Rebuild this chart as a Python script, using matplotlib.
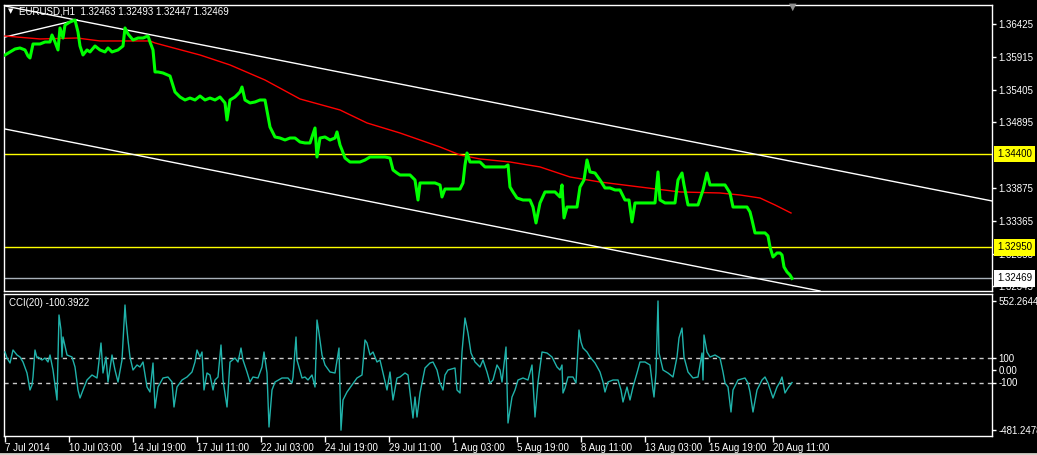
import matplotlib
matplotlib.use("Agg")
import matplotlib.pyplot as plt
from matplotlib.lines import Line2D
from matplotlib.transforms import blended_transform_factory

# EURUSD H1, bar index = hours from the first visible bar (7 Jul 2014)
price_bar = [0, 5, 10, 15, 20, 23, 25, 28, 35, 40,
             45, 47, 50, 53, 55, 58, 60, 65, 70, 73,
             75, 78, 82, 85, 90, 95, 100, 103, 107, 113,
             118, 120, 123, 128, 133, 138, 143, 145, 148, 150,
             153, 158, 165, 170, 175, 180, 185, 190, 195, 200,
             205, 210, 215, 220, 222, 225, 230, 235, 237, 240,
             245, 250, 255, 260, 263, 265, 270, 275, 280, 285,
             290, 295, 300, 305, 310, 312, 315, 320, 325, 330,
             332, 335, 337, 340, 345, 350, 355, 360, 365, 370,
             375, 380, 385, 388, 392, 395, 400, 405, 410, 413,
             415, 420, 425, 430, 435, 437, 440, 445, 450, 455,
             458, 460, 462, 465, 470, 475, 480, 485, 490, 495,
             500, 503, 505, 508, 512, 518, 525, 528, 531, 535,
             540, 545, 550, 555, 557, 559, 562, 567, 572, 575,
             579, 582, 585, 590, 595, 600, 605, 610, 615, 620,
             624, 627, 630, 635, 640, 645, 650, 653, 655, 660,
             665, 670, 673, 677, 679, 683, 688, 693, 698, 702,
             705, 710, 715, 720, 725, 728, 735, 742, 745, 747,
             750, 755, 760, 763, 765, 768, 772, 775, 777, 779,
             782, 785, 787]
price_close = [1.35943, 1.35990, 1.36036, 1.36052, 1.36021, 1.35927, 1.35896, 1.36114, 1.36114, 1.36145,
               1.36145, 1.36254, 1.36145, 1.36021, 1.36363, 1.36207, 1.36409, 1.36456, 1.36487, 1.36301,
               1.36083, 1.35943, 1.36021, 1.35990, 1.36083, 1.36021, 1.35990, 1.36052, 1.35990, 1.36021,
               1.36083, 1.36363, 1.36270, 1.36176, 1.36207, 1.36207, 1.36238, 1.36145, 1.36021, 1.35679,
               1.35679, 1.35663, 1.35616, 1.35368, 1.35290, 1.35243, 1.35274, 1.35243, 1.35305, 1.35243,
               1.35274, 1.35243, 1.35290, 1.35197, 1.34932, 1.35243, 1.35290, 1.35368, 1.35445, 1.35243,
               1.35197, 1.35212, 1.35243, 1.35243, 1.34995, 1.34823, 1.34668, 1.34652, 1.34621, 1.34652,
               1.34652, 1.34590, 1.34575, 1.34575, 1.34808, 1.34357, 1.34652, 1.34668, 1.34621, 1.34652,
               1.34746, 1.34543, 1.34466, 1.34341, 1.34279, 1.34279, 1.34279, 1.34310, 1.34357, 1.34357,
               1.34357, 1.34357, 1.34341, 1.34155, 1.34108, 1.34077, 1.34077, 1.34077, 1.33999, 1.33688,
               1.33953, 1.33953, 1.33953, 1.33953, 1.33922, 1.33735, 1.33859, 1.33859, 1.33859, 1.33859,
               1.33953, 1.34233, 1.34419, 1.34279, 1.34279, 1.34279, 1.34202, 1.34202, 1.34202, 1.34202,
               1.34202, 1.34233, 1.33890, 1.33813, 1.33719, 1.33688, 1.33688, 1.33579, 1.33331, 1.33642,
               1.33813, 1.33813, 1.33813, 1.33735, 1.33922, 1.33409, 1.33579, 1.33579, 1.33579, 1.33890,
               1.33999, 1.34310, 1.34124, 1.34108, 1.33999, 1.33875, 1.33875, 1.33844, 1.33844, 1.33688,
               1.33688, 1.33347, 1.33642, 1.33642, 1.33642, 1.33642, 1.33642, 1.34124, 1.33688, 1.33642,
               1.33642, 1.33642, 1.33999, 1.34108, 1.33922, 1.33611, 1.33611, 1.33611, 1.33844, 1.34108,
               1.33922, 1.33922, 1.33922, 1.33922, 1.33797, 1.33579, 1.33579, 1.33579, 1.33502, 1.33378,
               1.33176, 1.33176, 1.33176, 1.33129, 1.32958, 1.32802, 1.32864, 1.32864, 1.32833, 1.32647,
               1.32569, 1.32522, 1.32469]

ma_bar = [0, 35, 72, 95, 145, 150, 165, 195, 225, 260,
          295, 335, 362, 395, 435, 455, 475, 505, 535, 565,
          595, 635, 675, 715, 735, 755, 770, 786]
ma_value = [1.36238, 1.36192, 1.36207, 1.36161, 1.36161, 1.36130, 1.36067, 1.35943, 1.35788, 1.35554,
            1.35259, 1.35088, 1.34886, 1.34730, 1.34513, 1.34388, 1.34326, 1.34279, 1.34202, 1.34046,
            1.33968, 1.33890, 1.33813, 1.33797, 1.33766, 1.33719, 1.33611, 1.33486]

cci_bar = [0, 2, 5, 8, 12, 15, 18, 22, 25, 27, 28, 30, 32, 33, 37, 40, 43, 45, 48, 52,
           54, 56, 57, 58, 62, 67, 70, 73, 75, 78, 82, 87, 92, 93, 96, 98, 101, 103, 107, 110,
           113, 117, 120, 121, 123, 125, 128, 132, 135, 138, 142, 145, 148, 150, 153, 158, 163, 167, 169, 172,
           177, 182, 187, 190, 192, 195, 197, 199, 202, 205, 208, 210, 213, 216, 218, 222, 225, 230, 233, 236,
           238, 242, 245, 248, 253, 257, 259, 262, 264, 267, 270, 277, 283, 287, 288, 291, 292, 297, 300, 303,
           307, 310, 312, 314, 317, 320, 325, 330, 334, 336, 338, 342, 347, 352, 357, 360, 362, 365, 368, 372,
           375, 378, 382, 385, 388, 392, 395, 400, 403, 408, 410, 412, 415, 418, 420, 425, 428, 432, 435, 438,
           440, 443, 450, 452, 455, 457, 460, 463, 466, 470, 475, 478, 482, 485, 488, 492, 495, 497, 501, 503,
           507, 510, 513, 518, 523, 527, 530, 533, 537, 542, 547, 552, 555, 557, 558, 560, 563, 568, 571, 574,
           576, 578, 582, 585, 590, 595, 598, 600, 603, 608, 613, 616, 618, 622, 625, 628, 632, 635, 640, 645,
           648, 649, 651, 653, 654, 658, 663, 668, 672, 674, 677, 679, 683, 688, 693, 697, 698, 699, 702, 705,
           710, 715, 718, 720, 723, 726, 728, 733, 740, 743, 745, 748, 752, 757, 760, 763, 768, 772, 775, 777,
           780, 783, 787]
cci_value = [144, 96, 56, 160, 120, 104, 64, -24, -160, -120, -56, 160, 96, 104, 80, 96, 64, 120, 0, -240,
             440, 320, 104, 264, 120, 104, 24, -160, -224, -160, -80, -40, -64, 0, 216, -24, 104, -96, 120, 0,
             -96, 80, 520, 400, 240, 104, 0, 40, 24, 64, -136, -176, 56, -304, -136, -64, -56, -96, -296, -136,
             -80, -56, -16, 64, 160, 104, 144, -160, -24, -40, -160, -80, -56, 200, -80, -296, 64, 96, 64, 176,
             80, -16, -96, -56, -64, 24, 144, -24, -456, -160, -96, -64, -64, -104, -56, 264, 80, -64, -56, -80,
             -40, -136, 400, 296, 120, 40, -16, -24, 176, -481.2478, -240, -176, -120, -64, -40, 240, 216, 120, 144, 64,
             80, -24, -160, -16, -240, -64, -56, -24, -40, -384, -216, -376, -184, -64, 16, 56, 64, 0, -104, -160,
             -40, 0, 16, -160, -184, 144, 416, 296, 136, 64, 24, 80, -16, -104, -80, 40, 0, -96, 184, -424,
             -216, -160, -80, -64, -80, 40, -376, -96, 144, 136, 104, 24, 0, 40, -184, -144, -56, -56, -104, 320,
             224, 176, 144, 104, 56, -16, -96, -176, -96, -80, -80, -160, -256, -136, -240, -136, -24, 64, 64, 40,
             -160, -216, -24, 552.2644, 136, 0, -24, -56, 104, 256, 336, 104, -16, -64, -56, 136, -80, 280, 144, 104,
             120, 96, -16, -104, -136, -336, -160, -80, -64, -104, -176, -336, -160, -80, -56, -104, -224, -136, -96, -56,
             -184, -144, -100.3922]

# objects drawn on the chart: (bar, price) end points
channel_upper = [(0, 1.36705), (987, 1.33673)]
channel_lower = [(0, 1.34792), (815, 1.32273)]
trend_rise = [(0, 1.36223), (72, 1.36487)]
levels = [1.34400, 1.32950]
bid = 1.32469

price_ticks = [1.36425, 1.35915, 1.35405, 1.34895, 1.33875, 1.33365, 1.32855, 1.32345]
cci_ticks = [552.2644, 100, 0, -100, -481.2478]
cci_tick_labels = ["552.2644", "100", "0.00", "-100", "-481.2478"]
time_ticks = [0, 64, 128, 192, 256, 320, 384, 448, 512, 576, 640, 704, 768]
time_labels = ["7 Jul 2014", "10 Jul 03:00", "14 Jul 19:00", "17 Jul 11:00", "22 Jul 03:00",
               "24 Jul 19:00", "29 Jul 11:00", "1 Aug 03:00", "5 Aug 19:00", "8 Aug 11:00",
               "13 Aug 03:00", "15 Aug 19:00", "20 Aug 11:00"]

W, H = 1037, 455
plt.rcParams["font.family"] = ["Liberation Sans", "DejaVu Sans"]
plt.rcParams["font.size"] = 7


def px_box(x0, y0, x1, y1):
    return [x0 / W, 1 - y1 / H, (x1 - x0) / W, (y1 - y0) / H]


def style(ax):
    ax.set_facecolor("black")
    for s in ax.spines.values():
        s.set_color("white")
        s.set_linewidth(1)
    ax.yaxis.tick_right()
    ax.tick_params(colors="white", labelsize=7, length=3, width=1, direction="out", pad=1.5)
    ax.set_xlim(-1, 987)


fig = plt.figure(figsize=(W / 100, H / 100), dpi=100, facecolor="black")
ax_p = fig.add_axes(px_box(4, 4.5, 992, 291))
ax_c = fig.add_axes(px_box(4, 293.5, 992, 436))
style(ax_p)
style(ax_c)

# price pane
ax_p.set_ylim(1.32273, 1.36728)
ax_p.set_xticks([])
ax_p.set_yticks(price_ticks)
ax_p.set_yticklabels([f"{t:.5f}" for t in price_ticks])

for lv in levels:
    ax_p.axhline(lv, color="#FFFF00", lw=1, zorder=1)
ax_p.axhline(bid, color="#A8B0B8", lw=1, zorder=1)
for ln in (channel_upper, channel_lower, trend_rise):
    ax_p.plot([ln[0][0], ln[1][0]], [ln[0][1], ln[1][1]], color="white", lw=1, zorder=2)

ax_p.plot(ma_bar, ma_value, color="#FF0000", lw=1, zorder=3)
ax_p.plot(price_bar, price_close, color="#00FF00", lw=2.2, zorder=4)

# price labels on the scale for the horizontal lines
tr = blended_transform_factory(ax_p.transAxes, ax_p.transData)
for lv, bg in [(levels[0], "#FFFF00"), (levels[1], "#FFFF00"), (bid, "white")]:
    ax_p.text(1.005, lv, f"{lv:.5f}", transform=tr, color="black", fontsize=7, va="center", ha="left",
              bbox=dict(boxstyle="square,pad=0.32", fc=bg, ec="none"), zorder=10)

fig.text(8 / W, 1 - 11 / H, "\u25bc", color="white", fontsize=5, va="center", family="DejaVu Sans")
fig.text(19 / W, 1 - 12 / H, "EURUSD,H1  1.32463 1.32493 1.32447 1.32469", color="white", fontsize=7, va="center")
fig.text(793 / W, 1 - 7 / H, "\u25bc", color="#909090", fontsize=7, va="center", ha="center", family="DejaVu Sans")

# CCI pane
ax_c.set_ylim(-528, 612)
ax_c.axhline(100, color="#C8C8C8", lw=1, ls=(0, (3, 3)), zorder=1)
ax_c.axhline(-100, color="#C8C8C8", lw=1, ls=(0, (3, 3)), zorder=1)
ax_c.plot(cci_bar, cci_value, color="#20B2AA", lw=1, zorder=3)
ax_c.set_yticks(cci_ticks)
ax_c.set_yticklabels(cci_tick_labels)
ax_c.set_xticks(time_ticks)
ax_c.set_xticklabels(time_labels)
ax_c.tick_params(axis="x", length=4, pad=1)
for lab in ax_c.get_xticklabels():
    lab.set_ha("left")
ax_c.text(5 / 988, 1 - 9.5 / 142.5, "CCI(20) -100.3922", transform=ax_c.transAxes, color="white",
          fontsize=7, va="center", ha="left")

# window frame at the bottom
fig.add_artist(Line2D([0, 1], [1.5 / H, 1.5 / H], color="#D4D0C8", lw=2))

fig.savefig("out.png", dpi=100, facecolor="black")
